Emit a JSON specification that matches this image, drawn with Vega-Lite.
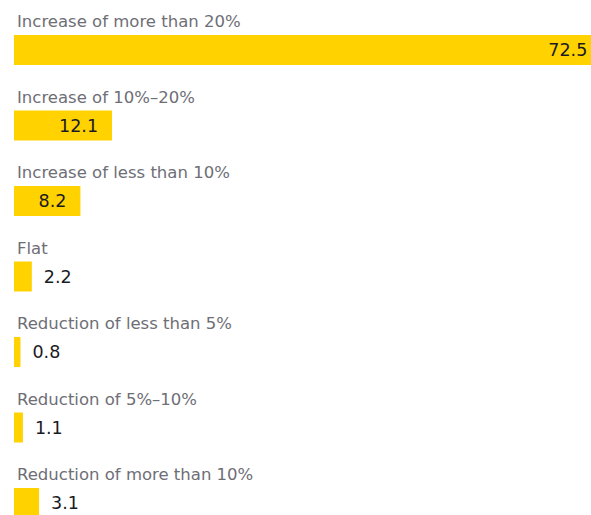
{
  "$schema": "https://vega.github.io/schema/vega-lite/v6.json",
  "autosize": {"type": "none"},
  "padding": {"left": 14, "top": 0, "right": 0, "bottom": 0},
  "width": 577,
  "height": 515,
  "background": "white",
  "config": {"view": {"stroke": null}, "font": "DejaVu Sans"},
  "data": {"values": [
    {"category": "Increase of more than 20%", "value": 72.5},
    {"category": "Increase of 10%–20%", "value": 12.1},
    {"category": "Increase of less than 10%", "value": 8.2},
    {"category": "Flat", "value": 2.2},
    {"category": "Reduction of less than 5%", "value": 0.8},
    {"category": "Reduction of 5%–10%", "value": 1.1},
    {"category": "Reduction of more than 10%", "value": 3.1}
  ]},
  "encoding": {
    "y": {"field": "category", "type": "nominal", "sort": null, "axis": null,
          "scale": {"range": [12.25, 540.75], "paddingInner": 0, "paddingOuter": 0}}
  },
  "layer": [
    {
      "mark": {"type": "bar", "color": "#FFD200", "height": 30},
      "encoding": {
        "x": {"field": "value", "type": "quantitative", "axis": null,
              "scale": {"domain": [0, 71.23], "nice": false}}
      }
    },
    {
      "mark": {"type": "text", "align": "left", "baseline": "alphabetic", "dy": -23, "dx": 3, "fontSize": 16.5, "color": "#6e6e76"},
      "encoding": {
        "x": {"datum": 0, "type": "quantitative"},
        "text": {"field": "category"}
      }
    },
    {
      "transform": [{"filter": "datum.value > 5"}],
      "mark": {"type": "text", "align": "right", "baseline": "middle", "dx": -14, "dy": 1, "fontSize": 17.5, "color": "#1a1a24"},
      "encoding": {
        "x": {"field": "value", "type": "quantitative"},
        "text": {"field": "value", "type": "quantitative", "format": ".1f"}
      }
    },
    {
      "transform": [{"filter": "datum.value <= 5"}],
      "mark": {"type": "text", "align": "left", "baseline": "middle", "dx": 12, "dy": 1, "fontSize": 17.5, "color": "#1a1a24"},
      "encoding": {
        "x": {"field": "value", "type": "quantitative"},
        "text": {"field": "value", "type": "quantitative", "format": ".1f"}
      }
    }
  ]
}
